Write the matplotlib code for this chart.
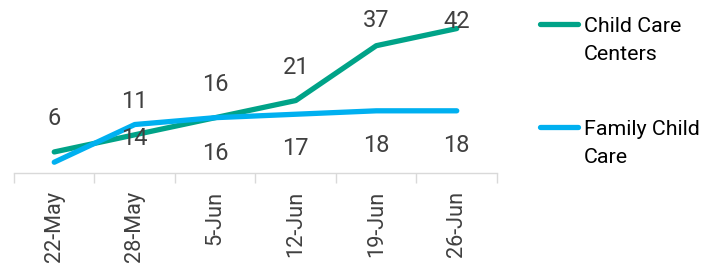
import numpy as np
import matplotlib.pyplot as plt
from matplotlib.lines import Line2D

dates = ['22-May', '28-May', '5-Jun', '12-Jun', '19-Jun', '26-Jun']
centers = [6, 11, 16, 21, 37, 42]
family = [3, 14, 16, 17, 18, 18]

# label offsets in points (hand placed in the original)
centers_off = [24, 24, 24, 24, 18, 5]
family_off = [None, -10, -26, -25, -25, -25]

green = '#00A388'
blue = '#00B0F0'
txt = '#404040'

plt.rcParams['font.family'] = ['Roboto', 'DejaVu Sans']

fig = plt.figure(figsize=(7.15, 2.65), dpi=100)
ax = fig.add_axes([14/715, 1 - 172.5/265, 483/715, 164.5/265])

x = np.arange(len(dates))
ax.plot(x, centers, color=green, lw=3.8, solid_capstyle='round', solid_joinstyle='round')
ax.plot(x, family, color=blue, lw=3.8, solid_capstyle='round', solid_joinstyle='round')

for i in range(len(x)):
    ax.annotate(str(centers[i]), (x[i], centers[i]), xytext=(0, centers_off[i]),
                textcoords='offset points', ha='center', va='center',
                fontsize=17, color=txt)
    if family_off[i] is not None:
        ax.annotate(str(family[i]), (x[i], family[i]), xytext=(0, family_off[i]),
                    textcoords='offset points', ha='center', va='center',
                    fontsize=17, color=txt)

ax.set_xlim(-0.5, len(dates) - 0.5)
ax.set_ylim(0, 48)
ax.set_xticks(x)
ax.set_xticklabels(dates, rotation=90, fontsize=15.7, color=txt)
ax.set_xticks(np.arange(-0.5, len(dates)), minor=True)
ax.tick_params(axis='x', which='major', length=0, pad=13)
ax.tick_params(axis='x', which='minor', length=7, color='#d9d9d9', width=1)
ax.set_yticks([])
for s in ['top', 'right', 'left']:
    ax.spines[s].set_visible(False)
ax.spines['bottom'].set_color('#d9d9d9')
ax.spines['bottom'].set_linewidth(1)

# legend drawn by hand so the line sits next to the first text line
for ypix, col, label in [(24, green, 'Child Care\nCenters'), (127, blue, 'Family Child\nCare')]:
    yf = 1 - ypix/265
    fig.add_artist(Line2D([540/715, 578/715], [yf, yf], color=col, lw=3.8,
                          solid_capstyle='round', transform=fig.transFigure))
    fig.text(584/715, yf + 7/265, label, fontsize=15.4, color='black',
             va='top', ha='left', linespacing=1.6)

fig.savefig('out.png', dpi=100)
